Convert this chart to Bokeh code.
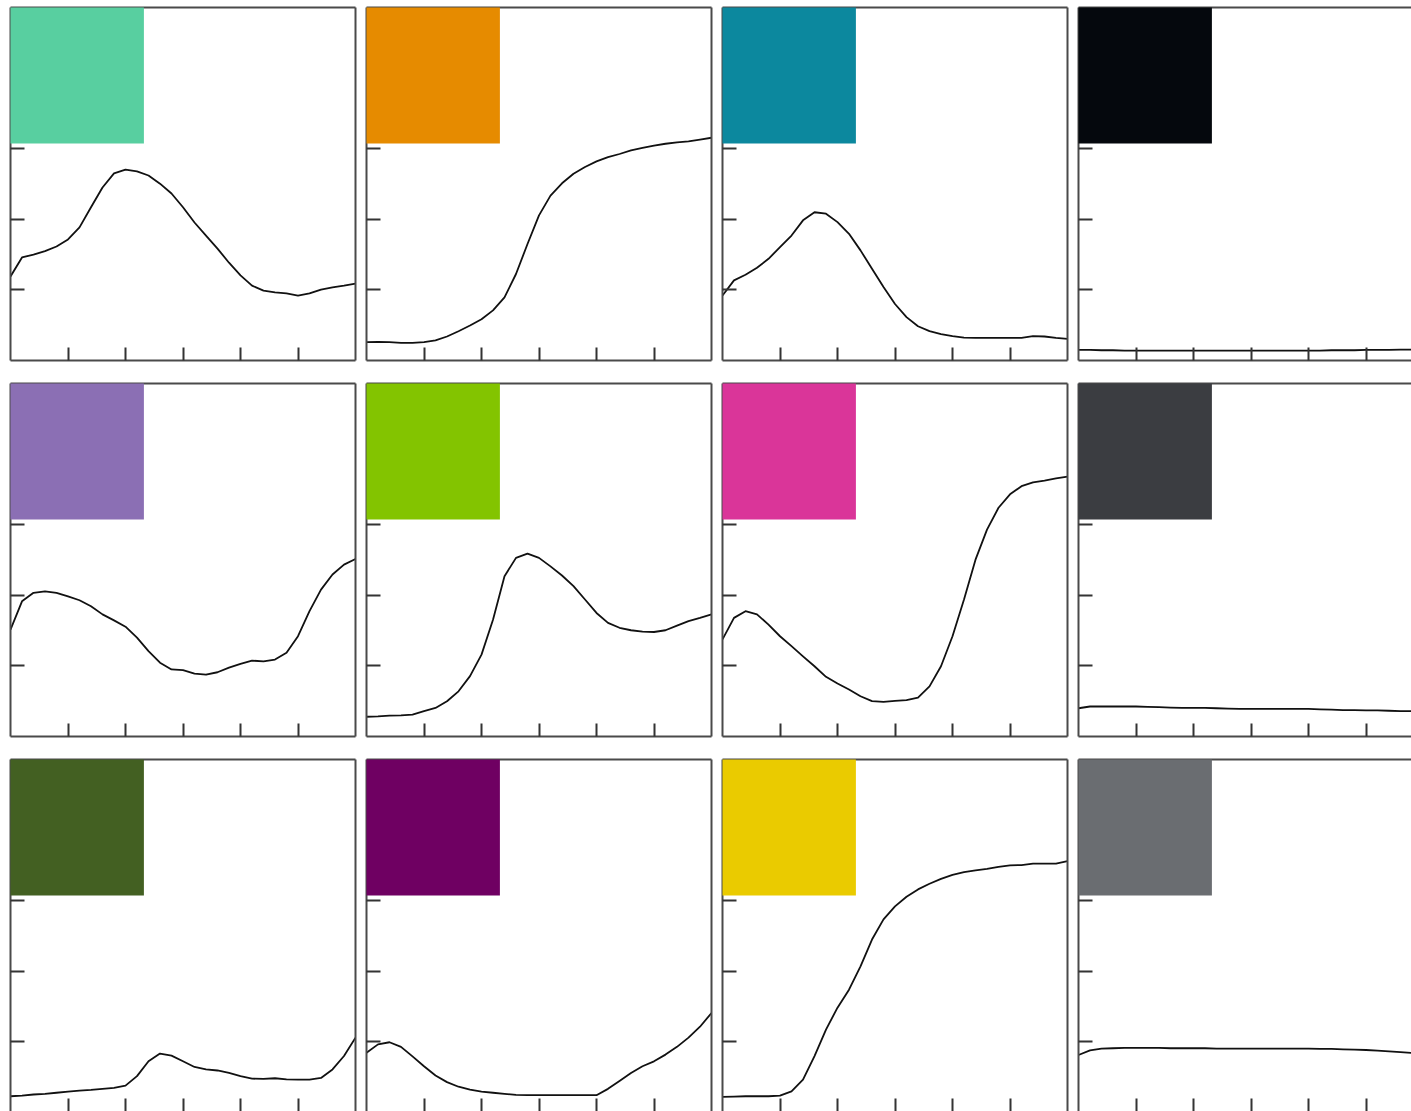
from bokeh.plotting import figure
from bokeh.models import Range1d, FixedTicker, LinearAxis, GridBox, CustomJSTickFormatter
from bokeh.embed import file_html
from bokeh.resources import INLINE

# ---------------- data ----------------
wavelengths = list(range(400, 701, 10))

bluish_green = [0.238, 0.292, 0.300, 0.310, 0.323, 0.343, 0.377, 0.434, 0.490, 0.530, 0.541,
                0.536, 0.524, 0.501, 0.473, 0.434, 0.391, 0.354, 0.317, 0.277, 0.241,
                0.212, 0.198, 0.193, 0.190, 0.184, 0.190, 0.201, 0.207, 0.212, 0.218]
orange = [0.052, 0.053, 0.052, 0.050, 0.050, 0.052, 0.057, 0.068, 0.083, 0.099, 0.117,
          0.142, 0.179, 0.245, 0.330, 0.411, 0.467, 0.502, 0.529, 0.548, 0.564,
          0.576, 0.585, 0.595, 0.602, 0.609, 0.614, 0.618, 0.621, 0.626, 0.631]
cyan = [0.184, 0.227, 0.243, 0.263, 0.288, 0.321, 0.354, 0.397, 0.420, 0.416, 0.392,
        0.359, 0.312, 0.260, 0.208, 0.160, 0.123, 0.097, 0.083, 0.075, 0.069,
        0.065, 0.064, 0.064, 0.064, 0.064, 0.064, 0.069, 0.068, 0.064, 0.061]
black = [0.030, 0.030, 0.029, 0.029, 0.028, 0.028, 0.028, 0.028, 0.028, 0.028, 0.028,
         0.028, 0.028, 0.028, 0.028, 0.028, 0.028, 0.028, 0.028, 0.028, 0.028,
         0.028, 0.029, 0.029, 0.029, 0.030, 0.030, 0.030, 0.031, 0.031, 0.031]
purple = [0.303, 0.383, 0.407, 0.411, 0.407, 0.397, 0.386, 0.369, 0.346, 0.329, 0.311,
          0.280, 0.242, 0.209, 0.190, 0.188, 0.178, 0.175, 0.182, 0.195, 0.206,
          0.215, 0.213, 0.218, 0.237, 0.284, 0.355, 0.416, 0.459, 0.487, 0.503]
yellow_green = [0.056, 0.057, 0.059, 0.060, 0.062, 0.072, 0.081, 0.100, 0.128, 0.171, 0.232,
                0.331, 0.454, 0.506, 0.518, 0.506, 0.482, 0.456, 0.426, 0.388, 0.350,
                0.322, 0.308, 0.301, 0.297, 0.296, 0.301, 0.314, 0.327, 0.336, 0.346]
magenta = [0.275, 0.336, 0.355, 0.346, 0.317, 0.284, 0.256, 0.227, 0.199, 0.169, 0.150,
           0.133, 0.114, 0.100, 0.098, 0.101, 0.103, 0.110, 0.142, 0.199, 0.284,
           0.388, 0.501, 0.586, 0.648, 0.686, 0.709, 0.720, 0.725, 0.731, 0.736]
dark_gray = [0.080, 0.085, 0.085, 0.085, 0.085, 0.085, 0.084, 0.083, 0.082, 0.081, 0.081,
             0.081, 0.080, 0.079, 0.078, 0.078, 0.078, 0.078, 0.078, 0.078, 0.078,
             0.077, 0.076, 0.075, 0.075, 0.074, 0.074, 0.073, 0.072, 0.072, 0.071]
dark_green = [0.046, 0.048, 0.051, 0.053, 0.056, 0.059, 0.062, 0.064, 0.067, 0.070, 0.076,
              0.103, 0.145, 0.167, 0.161, 0.145, 0.129, 0.122, 0.119, 0.112, 0.103,
              0.096, 0.095, 0.097, 0.094, 0.093, 0.093, 0.098, 0.122, 0.160, 0.212]
deep_purple = [0.169, 0.193, 0.199, 0.186, 0.159, 0.131, 0.105, 0.086, 0.073, 0.065, 0.059,
               0.056, 0.053, 0.050, 0.049, 0.049, 0.049, 0.049, 0.049, 0.049, 0.049,
               0.067, 0.089, 0.112, 0.131, 0.145, 0.164, 0.186, 0.212, 0.243, 0.282]
yellow = [0.044, 0.045, 0.046, 0.046, 0.046, 0.048, 0.060, 0.093, 0.160, 0.235, 0.297,
          0.348, 0.414, 0.490, 0.547, 0.584, 0.611, 0.632, 0.648, 0.662, 0.673,
          0.681, 0.686, 0.690, 0.696, 0.700, 0.701, 0.705, 0.705, 0.705, 0.712]
gray = [0.163, 0.176, 0.181, 0.182, 0.183, 0.183, 0.183, 0.183, 0.182, 0.182, 0.182,
        0.182, 0.181, 0.181, 0.181, 0.181, 0.181, 0.181, 0.181, 0.181, 0.181,
        0.180, 0.180, 0.179, 0.178, 0.177, 0.175, 0.173, 0.171, 0.169, 0.167]

series = [bluish_green, orange, cyan, black,
          purple, yellow_green, magenta, dark_gray,
          dark_green, deep_purple, yellow, gray]
swatch_colors = ["#58CFA0", "#E68B00", "#0C889E", "#05080D",
                 "#8B6FB4", "#83C400", "#DA3599", "#3B3D41",
                 "#436022", "#6F0062", "#EACB00", "#6A6D71"]

x_ticks = [450, 500, 550, 600, 650]
y_ticks = [0.2, 0.4, 0.6]

# ---------------- layout ----------------
EDGE = "#4a4a4a"
TICK = "#333333"
FW, FH = 345, 353           # frame size of a full panel
W_FULL, H_FULL = 349, 356
COL_GAP, ROW_GAP = 7, 20
LEFT_PAD, TOP_PAD = 8, 6
W_LAST = 1411 - LEFT_PAD - 3 * (W_FULL + COL_GAP)   # last column is cut by the window
H_LAST = 1111 - TOP_PAD - 2 * (H_FULL + ROW_GAP)    # last row is cut by the window

blank = CustomJSTickFormatter(code="return ''")


def style_axis(ax, ticks, tick_len, draw_line=True):
    ax.ticker = FixedTicker(ticks=ticks)
    ax.formatter = blank
    ax.major_tick_in = tick_len
    ax.major_tick_out = 0
    ax.minor_tick_line_color = None
    ax.major_label_text_font_size = "0px"
    ax.major_label_text_color = None
    ax.major_label_standoff = 0
    ax.major_tick_line_color = TICK
    ax.major_tick_line_width = 2
    ax.axis_line_color = EDGE if draw_line else None
    ax.axis_line_width = 2


children = []
for i, (vals, col) in enumerate(zip(series, swatch_colors)):
    r, c = divmod(i, 4)
    last_col = c == 3
    last_row = r == 2
    w = W_LAST if last_col else W_FULL
    h = H_LAST if last_row else H_FULL
    mb_left, mb_right = 2, (0 if last_col else 2)
    mb_top, mb_bottom = 1, (0 if last_row else 2)
    fw = w - mb_left - mb_right
    fh = h - mb_top - mb_bottom
    x_end = 400 + fw * 300.0 / FW
    y_start = 1.0 - fh / float(FH)

    p = figure(width=w, height=h, output_backend="svg", toolbar_location=None,
               x_range=Range1d(400, x_end), y_range=Range1d(y_start, 1.0),
               min_border_left=mb_left, min_border_right=mb_right,
               min_border_top=mb_top, min_border_bottom=mb_bottom,
               background_fill_color="white", border_fill_color="white")
    p.outline_line_color = None
    p.xgrid.visible = False
    p.ygrid.visible = False
    style_axis(p.xaxis[0], x_ticks, 13, draw_line=not last_row)
    style_axis(p.yaxis[0], y_ticks, 14)

    top = LinearAxis()
    style_axis(top, [], 0)
    p.add_layout(top, "above")
    if not last_col:
        right = LinearAxis()
        style_axis(right, [], 0)
        p.add_layout(right, "right")

    p.line(wavelengths, vals, line_color="#111111", line_width=1.8, line_join="round")
    sw = p.quad(left=400, right=516, bottom=0.615, top=1.0,
                fill_color=col, line_color=None)
    sw.level = "overlay"

    children.append((p, r, c))

grid = GridBox(children=children, spacing=(ROW_GAP, COL_GAP),
               margin=(TOP_PAD, 0, 0, LEFT_PAD))

open("out.html", "w").write(file_html(grid, INLINE))
